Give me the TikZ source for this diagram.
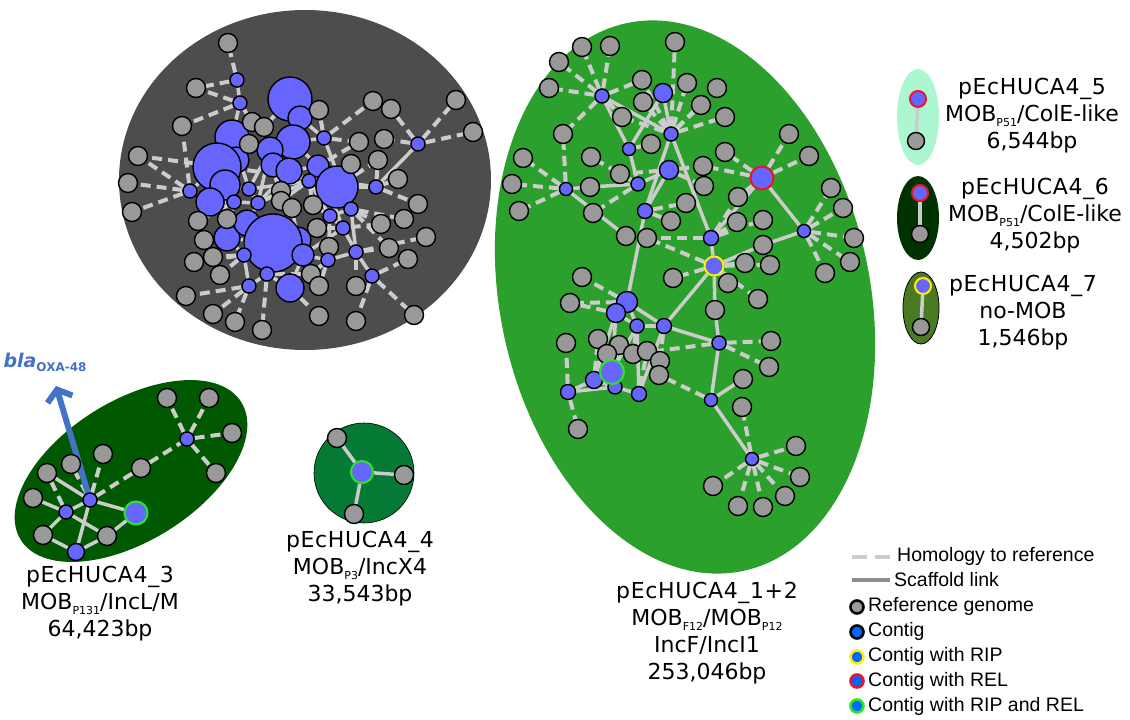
\documentclass[tikz,border=0pt]{standalone}
\usepackage{fontspec}
\setmainfont{DejaVu Sans}
\newfontfamily\namefont[LetterSpace=3]{DejaVu Sans}
\newfontfamily\legfont{Liberation Sans}
\usetikzlibrary{arrows.meta}
\definecolor{linkgrey}{RGB}{204,204,204}
\definecolor{scfgrey}{RGB}{140,140,140}
\definecolor{refgrey}{RGB}{153,153,153}
\definecolor{ctgblue}{RGB}{102,102,255}
\definecolor{legblue}{RGB}{0,102,255}
\definecolor{ripyellow}{RGB}{255,240,0}
\definecolor{relred}{RGB}{235,20,40}
\definecolor{riprelgreen}{RGB}{40,230,40}
\definecolor{blobgrey}{RGB}{77,77,77}
\definecolor{blobgreen}{RGB}{44,160,44}
\definecolor{blobdark}{RGB}{0,88,0}
\definecolor{blobfour}{RGB}{5,122,52}
\definecolor{blobmint}{RGB}{172,246,208}
\definecolor{blobsix}{RGB}{0,50,0}
\definecolor{blobolive}{RGB}{74,122,36}
\definecolor{blablue}{RGB}{68,114,196}
\newcommand\lowtext[1]{\raisebox{-0.4ex}{\fontsize{11}{11}\selectfont #1}}
\pgfdeclarelayer{blobs}
\pgfdeclarelayer{links}
\pgfsetlayers{blobs,links,main}
\tikzset{
  ref/.style={circle, draw=black, line width=1.4pt, fill=refgrey, minimum size=19pt, inner sep=0pt},
  ctg/.style={circle, draw=black, line width=1.4pt, fill=ctgblue, minimum size=14pt, inner sep=0pt},
  rip/.style={ctg, draw=ripyellow, line width=2pt},
  rel/.style={ctg, draw=relred, line width=2pt},
  riprel/.style={ctg, draw=riprelgreen, line width=2pt},
  hom/.style={draw=linkgrey, line width=4pt, dash pattern=on 10pt off 6pt},
  scf/.style={draw=linkgrey, line width=3.5pt},
  plabel/.style={align=center, font=\fontsize{22}{27}\selectfont, inner sep=0pt},
  legdot/.style={circle, line width=2.6pt, minimum size=13pt, inner sep=0pt},
  legtext/.style={anchor=west, font=\legfont\fontsize{19.5}{22}\selectfont, inner sep=0pt},
}

\begin{document}
\begin{tikzpicture}[x=1pt, y=-1pt]
\useasboundingbox (0,0) rectangle (1130,720);

% plasmid clouds
\begin{pgfonlayer}{blobs}
  \fill[blobgrey] (305,180) ellipse [x radius=186, y radius=170];
  \fill[blobgreen, rotate around={12:(685,297)}] (685,297) ellipse [x radius=185, y radius=280];
  \fill[blobdark, rotate around={32:(131,471)}] (131,471) ellipse [x radius=130, y radius=70];
  \filldraw[fill=blobfour, draw=black, line width=0.6pt] (364,473) circle [radius=50];
  \fill[blobmint] (918,117) ellipse [x radius=21, y radius=48];
  \fill[blobsix] (918,218) ellipse [x radius=21, y radius=42];
  \filldraw[fill=blobolive, draw=black, line width=0.8pt] (921,308) ellipse [x radius=18, y radius=36];
\end{pgfonlayer}

% pEcHUCA4_1+2
\foreach \n/\x/\y in {1/582/47, 2/610/46, 3/675/42, 4/559/62, 5/549/88, 6/642/80, 7/687/83, 8/717/88, 9/643/102, 10/701/105, 11/622/117, 12/725/117, 13/563/134, 14/651/144, 15/789/134, 16/809/156, 17/523/158, 18/591/157, 19/725/152, 20/620/174, 21/703/166, 22/512/184, 23/590/187, 24/704/186, 25/738/197, 26/831/188, 27/519/211, 28/593/213, 29/686/203, 30/843/208, 31/671/221, 32/737/222, 33/763/220, 34/626/236, 35/647/238, 36/854/238, 37/763/245, 38/745/263, 39/770/265, 40/850/262, 41/825/273, 42/673/278, 43/582/277, 44/728/283, 45/758/299, 46/570/303, 47/715/310, 48/566/343, 49/598/339, 50/619/345, 51/607/354, 52/633/354, 53/647/351, 54/660/361, 55/659/375, 56/771/341, 57/769/367, 58/743/379, 59/742/407, 60/578/429, 61/796/446, 62/800/477, 63/713/486, 64/785/496, 65/738/506, 66/763/507}
  \node[ref] (r\n) at (\x,\y) {};
\foreach \n/\x/\y/\d in {1/602/96/14, 2/663/93/19, 3/671/134/14, 4/629/149/13, 5/669/170/19, 7/566/189/13, 8/638/184/14, 9/645/211/15, 10/711/238/15, 11/804/231/13, 13/627/302/21, 14/616/313/19, 15/637/326/14, 16/664/326/15, 17/719/343/14, 19/594/380/17, 20/568/392/15, 21/615/387/14, 22/639/394/15, 23/711/400/13, 24/752/459/13}
  \node[ctg, minimum size=\d pt] (a\n) at (\x,\y) {};
\node[rel, minimum size=23pt] (a6) at (762,178) {};
\node[rip, minimum size=19pt] (a12) at (714,266) {};
\node[riprel, minimum size=24pt] (a18) at (612,372) {};

% pEcHUCA4_3
\foreach \n/\x/\y in {1/167/398, 2/209/398, 3/232/433, 4/216/473, 5/141/468, 6/103/454, 7/71/464, 8/47/473, 9/33/498, 10/43/535, 11/107/536}
  \node[ref] (q\n) at (\x,\y) {};
\foreach \n/\x/\y/\d in {1/90/500/14, 2/66/512/14, 3/76/552/17, 5/187/439/14}
  \node[ctg, minimum size=\d pt] (p\n) at (\x,\y) {};
\node[riprel, minimum size=23pt] (p4) at (136,513) {};

% pEcHUCA4_4
\node[riprel, minimum size=22pt] (m1) at (362,472) {};
\node[ref] (n1) at (337,438) {};
\node[ref] (n2) at (404,475) {};
\node[ref] (n3) at (354,514) {};

% pEcHUCA4_5, _6, _7
\node[rel, minimum size=16pt] (e5a) at (918,99) {};
\node[ref, minimum size=17pt] (e5b) at (916,141) {};
\node[rel, minimum size=16pt] (e6a) at (920,193) {};
\node[ref, minimum size=17pt] (e6b) at (920,234) {};
\node[rip, minimum size=16pt] (e7a) at (923,286) {};
\node[ref, minimum size=17pt] (e7b) at (921,327) {};

% chromosome cloud
\foreach \n/\x/\y/\d in {20/290/99/44, 35/300/118/24, 21/232/137/34, 38/236/160/26, 22/217/167/48, 36/225/185/30, 23/293/142/34, 24/270/150/26, 34/273/165/24, 25/289/171/26, 26/318/166/22, 27/337/187/42, 28/210/202/28, 29/227/238/26, 30/247/223/26, 37/298/240/26, 31/273/243/58, 32/303/255/22, 33/290/288/28}
  \node[ctg, minimum size=\d pt] (c\n) at (\x,\y) {};
\foreach \n/\x/\y in {1/228/43, 2/196/88, 3/182/126, 4/138/156, 5/128/183, 6/132/212, 7/373/101, 8/391/109, 9/456/100, 10/473/132, 11/319/110, 12/252/122, 13/264/127, 14/359/142, 15/384/139, 16/249/144, 17/378/160, 18/351/164, 19/398/179, 20/281/191, 21/281/201, 22/292/208, 23/313/205, 24/418/204, 25/404/219, 26/381/224, 27/317/228, 28/426/237, 29/227/219, 30/198/221, 31/204/240, 32/329/247, 33/389/248, 34/213/257, 35/194/262, 36/408/259, 37/311/274, 38/220/275, 39/319/286, 40/356/286, 41/186/296, 42/213/314, 43/235/322, 44/262/330, 45/319/316, 46/356/321, 47/414/315}
  \node[ref] (s\n) at (\x,\y) {};
\foreach \n/\x/\y in {1/237/80, 2/240/103, 3/324/138, 4/418/144, 5/190/191, 6/376/187, 7/234/202, 8/249/189, 9/309/181, 10/330/216, 11/343/228, 12/351/209, 13/258/203, 14/356/252, 15/328/260, 16/244/255, 17/372/276, 18/249/286, 19/267/274}
  \node[ctg] (c\n) at (\x,\y) {};

% links
\begin{pgfonlayer}{links}
  \foreach \a/\b in {a1/r1, a1/r2, a1/r4, a1/r5, a1/r6, a1/r13, a1/r11, a3/r3, a3/r7, a3/r8, a3/r10, a3/r12, a3/r9, a3/r11, a3/r6, a4/r14, a5/r21, a5/r24, a5/r20, a6/r15, a6/r16, a6/r19, a6/r25, a6/r21, a7/r17, a7/r22, a7/r27, a7/r13, a8/r18, a8/r20, a8/r28, a9/r31, a9/r29, a10/r35, a10/r32, a10/r33, a10/r25, a12/r35, a12/r38, a12/r39, a12/r42, a12/r44, a12/r45, a11/r26, a11/r30, a11/r36, a11/r40, a11/r41, a17/r56, a17/r57, a17/r52, a23/r55, a24/r59, a24/r61, a24/r62, a24/r63, a24/r64, a24/r65, a24/r66, a13/r43, a13/r46, a20/r48, a20/r60, a14/r46, a18/r49, a18/r50, a22/r53, a16/r54, a21/r51, a19/r49, a15/r52}
    \draw[hom] (\a) -- (\b);
  \foreach \a/\b in {a1/a3, a1/a4, a2/a3, a2/a4, a4/a8, a3/a9, a3/a10, a5/a8, a5/a9, a7/r23, r23/a8, a7/r34, a9/a13, a6/a11, a6/a10, a10/a12, a12/r37, r37/a11, a12/r47, r47/a17, a12/a16, a16/a17, a17/a23, a23/r58, a23/a24, a13/a14, a14/a15, a15/a16, a14/a19, a19/a20, a19/a18, a18/a21, a21/a22, a22/a16, a15/a18, a19/a21, a20/a21, a14/a18, a13/a16, a15/a22, a13/a15, a20/a18}
    \draw[scf] (\a) -- (\b);
  \foreach \a/\b in {p5/q1, p5/q2, p5/q3, p5/q4, q5/p5, p1/q5, p1/q6, p1/q7, p2/q8, c1/s1, c1/s2, c2/s2, c2/s12, c5/s3, c2/s3, c5/s4, c5/s5, c5/s6, c3/s7, c4/s8, c4/s9, c4/s10, c4/s15, c3/s14, c3/s11, c6/s17, c6/s19, c6/s24, c12/s25, c14/s28, c17/s36, c17/s47, c17/s46, c14/s40, c14/s33, c12/s26, c18/s41, c18/s42, c18/s43, c19/s44, c33/s45, c16/s38, c16/s34, c16/s35, c29/s31, c7/s29, c7/s30, c20/s13, c21/s16, c27/s18, c25/s20, c34/s21, c31/s22, c9/s23, c10/s27, c15/s32, c15/s37, c32/s39, c6/s4, c24/s16, c22/s12, c27/s17, c26/s14, c11/s26, c12/s33, c15/s39, c19/s37}
    \draw[hom] (\a) -- (\b);
  \foreach \a/\b in {p1/p4, p4/q11, q11/p3, p3/q10, q10/p2, p2/p1, p1/p3, p2/q9, p1/q8, p2/q11, m1/n1, m1/n2, m1/n3, e5a/e5b, e6a/e6b, e7a/e7b, c1/c2, c2/c21, c5/c22, c22/c28, c28/c7, c7/c29, c29/c16, c16/c18, c18/c19, c19/c33, c33/c32, c32/c15, c15/c14, c14/c17, c14/c11, c11/c10, c10/c12, c12/c27, c27/c6, c6/c4, c27/c26, c26/c9, c9/c25, c25/c34, c34/c24, c24/c23, c23/c20, c20/c35, c23/c3, c21/c24, c21/c38, c38/c22, c22/c36, c36/c8, c8/c13, c13/c30, c30/c31, c31/c37, c37/c32, c31/c19, c13/c25, c8/c24, c28/c30, c9/c10, c26/c11, c35/c3, c13/c9, c8/c9, c12/c14, c30/c16, c10/c15, c3/c12, c24/s20, c25/s21, s21/s22, s22/c31, s23/c10, c34/c9, c36/c7, c28/c36, c8/c21, c38/s16, s12/c21, c35/c24, c23/c26, c26/c25, c31/c32, c30/c29, s27/c31, s29/c30, c11/c32, c12/c26, s20/c13, s22/c37, s23/c27, c9/s21, c7/c13, c29/c31, s27/c11, c24/c13}
    \draw[scf] (\a) -- (\b);
  \coordinate (blatip) at (56,386);
  \draw[draw=blablue, line width=6pt, -{Straight Barb[length=10pt, width=26pt]}] (p1.center) -- (blatip);
\end{pgfonlayer}

\node[font=\bfseries\fontsize{19}{19}\selectfont, text=blablue] (bla) at (45,362) {\itshape bla\lowtext{\upshape\fontsize{12}{12}\selectfont OXA-48}};

% plasmid names
\node[plabel] (l3) at (100,604) {{\namefont pEcHUCA4\_3}\\MOB\lowtext{P131}/IncL/M\\64,423bp};
\node[plabel] (l4) at (360,569) {{\namefont pEcHUCA4\_4}\\MOB\lowtext{P3}/IncX4\\33,543bp};
\node[plabel] (l12) at (707,633) {{\namefont pEcHUCA4\_1+2}\\MOB\lowtext{F12}/MOB\lowtext{P12}\\IncF/IncI1\\253,046bp};
\node[plabel] (l5) at (1032,116) {{\namefont pEcHUCA4\_5}\\MOB\lowtext{P51}/ColE-like\\6,544bp};
\node[plabel] (l6) at (1035,216) {{\namefont pEcHUCA4\_6}\\MOB\lowtext{P51}/ColE-like\\4,502bp};
\node[plabel] (l7) at (1023,313) {{\namefont pEcHUCA4\_7}\\no-MOB\\1,546bp};

% legend
\coordinate (h1) at (852,557);
\coordinate (h2) at (890,557);
\coordinate (k1) at (852,580);
\coordinate (k2) at (890,580);
\draw[hom, dash pattern=on 15pt off 8pt] (h1) -- (h2);
\draw[draw=scfgrey, line width=4pt] (k1) -- (k2);
\node[legtext] (t1) at (897,556) {Homology to reference};
\node[legtext] (t2) at (894,580) {Scaffold link};
\node[legdot, draw=black, fill=refgrey] (d1) at (857,607) {};
\node[legdot, draw=black, fill=legblue] (d2) at (857,632) {};
\node[legdot, draw=ripyellow, fill=legblue] (d3) at (857,657) {};
\node[legdot, draw=relred, fill=legblue] (d4) at (857,681) {};
\node[legdot, draw=riprelgreen, fill=legblue] (d5) at (857,706) {};
\node[legtext] (t3) at (868,606) {Reference genome};
\node[legtext] (t4) at (868,631) {Contig};
\node[legtext] (t5) at (868,656) {Contig with RIP};
\node[legtext] (t6) at (868,681) {Contig with REL};
\node[legtext] (t7) at (868,706) {Contig with RIP and REL};
\end{tikzpicture}
\end{document}
